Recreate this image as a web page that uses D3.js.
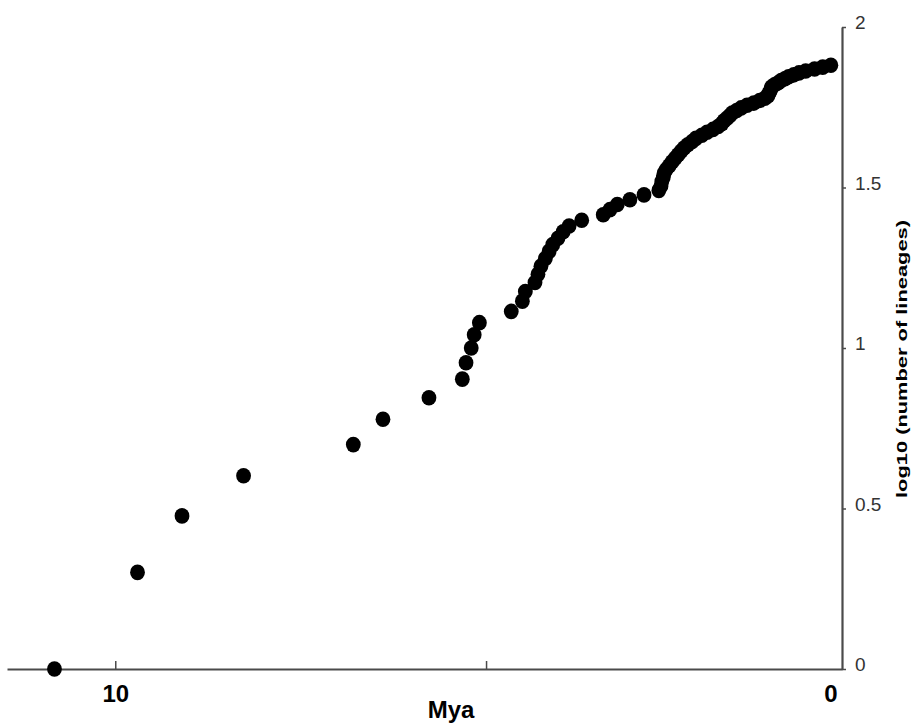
<!DOCTYPE html>
<html>
<head>
<meta charset="utf-8">
<script src="https://cdn.jsdelivr.net/npm/d3@7"></script>
<style>
  html, body { margin: 0; padding: 0; background: #fff; }
  svg { display: block; }
</style>
</head>
<body>
<svg id="chart" width="912" height="725"></svg>
<script>
// ---- data ----
// time before present (million years ago)
const mya = [
  10.82, 9.70, 9.10, 8.27, 6.79, 6.39, 5.77, 5.32, 5.27, 5.20,
  5.16, 5.09, 4.66, 4.51, 4.47, 4.34, 4.30, 4.26, 4.20, 4.15,
  4.10, 4.03, 3.96, 3.88, 3.71, 3.42, 3.33, 3.23, 3.06, 2.87,
  2.67, 2.64, 2.63, 2.61, 2.60, 2.57, 2.53, 2.49, 2.45, 2.41,
  2.37, 2.33, 2.28, 2.22, 2.17, 2.09, 2.02, 1.94, 1.87, 1.82,
  1.79, 1.75, 1.71, 1.68, 1.62, 1.56, 1.48, 1.39, 1.31, 1.24,
  1.20, 1.19, 1.17, 1.16, 1.15, 1.11, 1.06, 1.02, 0.97, 0.92,
  0.85, 0.78, 0.69, 0.57, 0.46, 0.35
];
// log10(number of lineages)
const logLineages = [
  0.000, 0.301, 0.477, 0.602, 0.699, 0.778, 0.845, 0.903, 0.954, 1.000,
  1.041, 1.079, 1.114, 1.146, 1.176, 1.204, 1.230, 1.255, 1.279, 1.301,
  1.322, 1.342, 1.362, 1.380, 1.398, 1.415, 1.431, 1.447, 1.462, 1.477,
  1.491, 1.505, 1.519, 1.531, 1.544, 1.556, 1.568, 1.580, 1.591, 1.602,
  1.613, 1.623, 1.633, 1.643, 1.653, 1.663, 1.672, 1.681, 1.690, 1.699,
  1.708, 1.716, 1.724, 1.732, 1.740, 1.748, 1.756, 1.763, 1.771, 1.778,
  1.785, 1.792, 1.799, 1.806, 1.813, 1.820, 1.826, 1.833, 1.839, 1.845,
  1.851, 1.857, 1.863, 1.869, 1.875, 1.881
];
const xTicks = [10, 5];
const xTickLabels = ["10", ""];
const xEndLabel = "0";
const yTicks = [0, 0.5, 1, 1.5, 2];
const yTickLabels = ["0", "0.5", "1", "1.5", "2"];
const xDomain = [11.46, 0.2];
const yDomain = [0, 2];
const xTitle = "Mya";
const yTitle = "log10 (number of lineages)";

// ---- drawing ----
const svg = d3.select("#chart");
const x = d3.scaleLinear().domain(xDomain).range([7, 842]);
const y = d3.scaleLinear().domain(yDomain).range([669, 27]);
const axisColor = "#4a4a4a";
const font = "Arial, 'Liberation Sans', sans-serif";

// x axis
const xAxis = d3.axisBottom(x)
  .tickValues(xTicks)
  .tickFormat((d, i) => xTickLabels[i])
  .tickSizeInner(-8)
  .tickSizeOuter(0)
  .tickPadding(20);
const gx = svg.append("g").attr("transform", `translate(0,${y(0)})`).call(xAxis);
gx.select(".domain").attr("stroke", axisColor).attr("stroke-width", 2.2);
gx.selectAll(".tick line").attr("stroke", axisColor).attr("stroke-width", 1.5);
gx.selectAll(".tick text")
  .attr("fill", "#000").attr("font-family", font).attr("font-weight", "bold")
  .attr("font-size", 24).attr("y", 33).attr("dy", 0);

svg.append("text")
  .attr("x", x.range()[1] - 11).attr("y", y(0) + 33)
  .attr("text-anchor", "middle")
  .attr("font-family", font).attr("font-weight", "bold").attr("font-size", 24)
  .text(xEndLabel);

svg.append("text")
  .attr("x", 451).attr("y", 718)
  .attr("text-anchor", "middle")
  .attr("font-family", font).attr("font-weight", "bold").attr("font-size", 24)
  .text(xTitle);

// y axis on right
const yAxis = d3.axisRight(y)
  .tickValues(yTicks)
  .tickFormat((d, i) => yTickLabels[i])
  .tickSizeInner(4)
  .tickSizeOuter(0)
  .tickPadding(9);
const gy = svg.append("g").attr("transform", `translate(${x.range()[1]},0)`).call(yAxis);
gy.select(".domain").attr("stroke", axisColor).attr("stroke-width", 2.2);
gy.selectAll(".tick line").attr("stroke", axisColor).attr("stroke-width", 1.5);
gy.selectAll(".tick text")
  .attr("fill", "#333").attr("font-family", font)
  .attr("font-size", 19).attr("dy", "0.1em");

svg.append("text")
  .attr("transform", "translate(907,359) rotate(-90)")
  .attr("text-anchor", "middle")
  .attr("font-family", font).attr("font-weight", "bold").attr("font-size", 14)
  .attr("textLength", 278).attr("lengthAdjust", "spacingAndGlyphs")
  .text(yTitle);

// points
svg.append("g").selectAll("ellipse")
  .data(mya.map((m, i) => ({ m, v: logLineages[i] })))
  .join("ellipse")
  .attr("cx", d => x(d.m))
  .attr("cy", d => y(d.v))
  .attr("rx", 7.4)
  .attr("ry", 7.8)
  .attr("fill", "#000");
</script>
</body>
</html>
